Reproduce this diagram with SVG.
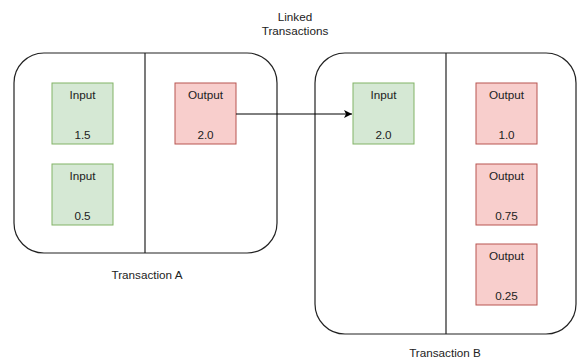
<svg xmlns="http://www.w3.org/2000/svg" width="577" height="360" viewBox="0 0 577 360">
<defs>
<marker id="arr" markerWidth="10" markerHeight="10" refX="8" refY="4" orient="auto" markerUnits="userSpaceOnUse">
<path d="M0,0 L8,4 L0,8 L2,4 Z" fill="#000"/>
</marker>
<style>
.tx{fill:#fff;stroke:#222;stroke-width:1.2}
.div{stroke:#222;stroke-width:1.2}
.in{fill:#d5e8d4;stroke:#82b366;stroke-width:1}
.out{fill:#f8cecc;stroke:#b85450;stroke-width:1}
text{font-family:"Liberation Sans",Arial,sans-serif;font-size:11.7px;fill:#222;text-anchor:middle}
</style>
</defs>
<rect width="577" height="360" fill="#fff"/>
<text x="295" y="21">Linked</text>
<text x="295" y="35">Transactions</text>
<g id="txA">
<rect class="tx" x="14" y="53" width="263" height="200" rx="30"/>
<line class="div" x1="145" y1="53" x2="145" y2="253"/>
<text x="147" y="279">Transaction A</text>
</g>
<g id="txB">
<rect class="tx" x="315" y="53" width="261" height="281" rx="30"/>
<line class="div" x1="446" y1="53" x2="446" y2="334"/>
<text x="445" y="357">Transaction B</text>
</g>
<g id="a_in1"><rect class="in" x="52" y="83" width="61" height="61"/><text x="82.5" y="99">Input</text><text x="82.5" y="139">1.5</text></g>
<g id="a_in2"><rect class="in" x="52" y="164" width="61" height="61"/><text x="82.5" y="180">Input</text><text x="82.5" y="220">0.5</text></g>
<g id="a_out1"><rect class="out" x="175" y="83" width="61" height="61"/><text x="205.5" y="99">Output</text><text x="205.5" y="139">2.0</text></g>
<g id="b_in1"><rect class="in" x="353" y="83" width="61" height="61"/><text x="383.5" y="99">Input</text><text x="383.5" y="139">2.0</text></g>
<g id="b_out1"><rect class="out" x="476" y="83" width="61" height="61"/><text x="506.5" y="99">Output</text><text x="506.5" y="139">1.0</text></g>
<g id="b_out2"><rect class="out" x="476" y="164" width="61" height="61"/><text x="506.5" y="180">Output</text><text x="506.5" y="220">0.75</text></g>
<g id="b_out3"><rect class="out" x="476" y="244" width="61" height="61"/><text x="506.5" y="260">Output</text><text x="506.5" y="300">0.25</text></g>
<g id="connectors">
<line x1="236" y1="114" x2="352" y2="114" stroke="#000" stroke-width="1" marker-end="url(#arr)"/>
</g>
</svg>
